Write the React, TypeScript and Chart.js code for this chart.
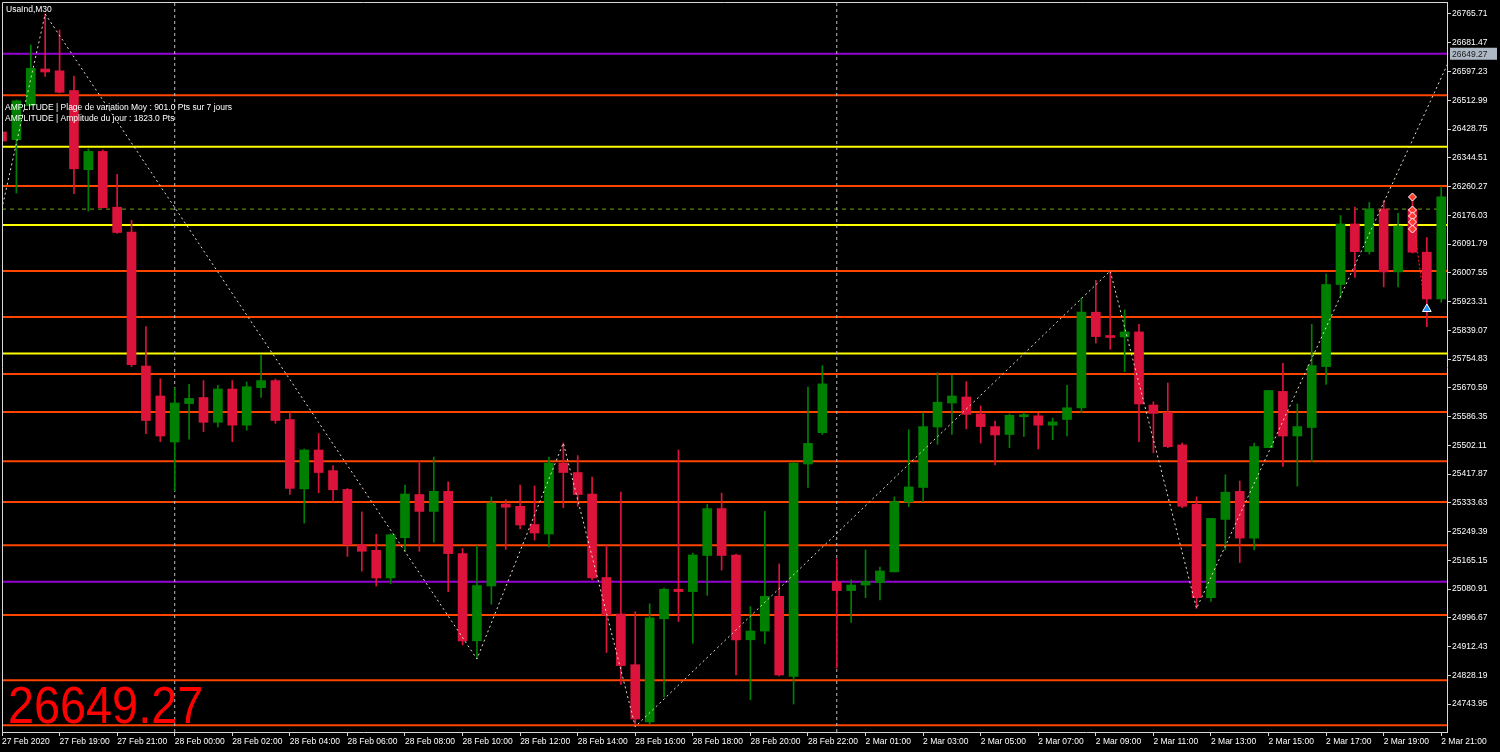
import React, { useEffect, useRef } from "react";
import { Chart, registerables } from "chart.js";

Chart.register(...registerables);

const FONT = '"Liberation Sans", Arial, sans-serif';

// ---------- DATA ----------
const chartTitle = "UsaInd,M30";
const infoLines = [
  "AMPLITUDE | Plage de variation Moy : 901.0 Pts sur 7 jours",
  "AMPLITUDE | Amplitude du jour : 1823.0 Pts",
];
const currentPrice = 26649.27;

const timeLabels = [
  "27 Feb 2020", "27 Feb 19:00", "27 Feb 21:00", "28 Feb 00:00", "28 Feb 02:00",
  "28 Feb 04:00", "28 Feb 06:00", "28 Feb 08:00", "28 Feb 10:00", "28 Feb 12:00",
  "28 Feb 14:00", "28 Feb 16:00", "28 Feb 18:00", "28 Feb 20:00", "28 Feb 22:00",
  "2 Mar 01:00", "2 Mar 03:00", "2 Mar 05:00", "2 Mar 07:00", "2 Mar 09:00",
  "2 Mar 11:00", "2 Mar 13:00", "2 Mar 15:00", "2 Mar 17:00", "2 Mar 19:00",
  "2 Mar 21:00",
];
const barsPerLabel = 4;
const daySeparators = [12, 58];

const priceTicks = [
  26765.71, 26681.47, 26597.23, 26512.99, 26428.75, 26344.51, 26260.27, 26176.03,
  26091.79, 26007.55, 25923.31, 25839.07, 25754.83, 25670.59, 25586.35, 25502.11,
  25417.87, 25333.63, 25249.39, 25165.15, 25080.91, 24996.67, 24912.43, 24828.19,
  24743.95,
];
const priceMin = 24661.97;
const priceMax = 26800.87;
const barMin = 0;
const barMax = 100.4;

const opens = [
  26419.97, 26397.41, 26497.61, 26604.56, 26599.29, 26541.56, 26309.51, 26363.13, 26199.63, 26126.97,
  25734.35, 25646.45, 25511.67, 25624.18, 25642.05, 25569.39, 25666.96, 25560.89, 25670.77, 25691.57,
  25577.59, 25374.25, 25488.23, 25427.87, 25372.79, 25210.76, 25194.35, 25113.19, 25231.27, 25357.84,
  25308.33, 25367.22, 25184.68, 24929.19, 25089.75, 25330.01, 25323.27, 25269.94, 25242.11, 25449.85,
  25422.3, 25359.31, 25114.65, 25007.71, 24859.16, 24691.56, 24993.65, 25080.37, 25073.34, 25179.11,
  25316.53, 25180.58, 24932.12, 24957.9, 25059.57, 24824.88, 25447.21, 25538.92, 25102.35, 25076.27,
  25092.68, 25099.42, 25131.06, 25335.87, 25378.35, 25555.62, 25625.94, 25643.52, 25593.71, 25556.79,
  25533.64, 25585.8, 25588.44, 25560.89, 25577.59, 25611.88, 25891.98, 25821.96, 25819.32, 25834.26,
  25620.08, 25598.1, 25503.17, 25328.84, 25055.47, 25284.89, 25367.22, 25230.1, 25494.97, 25659.93,
  25529.25, 25554.15, 25732.59, 25973.14, 26150.41, 26069.25, 26194.36, 26010.06, 26194.36, 26067.78,
  25930.66,
];
const highs = [
  26428.76, 26513.73, 26674.88, 26765.71, 26718.83, 26584.05, 26370.16, 26367.23, 26295.74, 26161.25,
  25849.5, 25696.85, 25669.89, 25680.44, 25691.57, 25677.8, 25691.57, 25687.47, 25767.17, 25696.26,
  25598.1, 25491.16, 25536.28, 25442.81, 25375.42, 25306.86, 25240.94, 25242.11, 25385.09, 25456.59,
  25467.72, 25394.76, 25199.92, 25208.12, 25350.81, 25342.61, 25385.09, 25382.75, 25467.72, 25508.74,
  25471.82, 25408.53, 25209.29, 25364.58, 25014.45, 25037.6, 25083.89, 25488.23, 25186.44, 25328.84,
  25361.95, 25183.51, 25029.39, 25308.33, 25154.21, 25453.07, 25672.23, 25735.52, 25169.45, 25107.92,
  25195.23, 25144.83, 25350.81, 25547.42, 25598.1, 25714.72, 25707.98, 25688.64, 25617.15, 25573.2,
  25593.71, 25598.1, 25595.47, 25581.7, 25677.8, 25933.59, 25985.45, 26012.7, 25899.02, 25856.24,
  25629.75, 25684.54, 25508.74, 25350.81, 25287.82, 25415.57, 25397.4, 25508.74, 25662.56, 25742.26,
  25623.01, 25856.24, 26003.32, 26175.02, 26199.63, 26213.4, 26218.97, 26181.76, 26220.73, 26110.27,
  26259.99,
];
const lows = [
  26387.74, 26241.24, 26496.15, 26582.88, 26534.24, 26239.48, 26188.5, 26197.29, 26122.87, 25732.59,
  25536.28, 25512.84, 25368.69, 25519.87, 25541.85, 25555.62, 25512.84, 25545.95, 25642.05, 25566.46,
  25357.84, 25274.05, 25363.12, 25335.87, 25176.48, 25133.7, 25089.75, 25096.78, 25191.42, 25191.42,
  25217.79, 25073.34, 24916.88, 24875.86, 25036.42, 25196.99, 25257.35, 25224.53, 25204.02, 25319.17,
  25323.27, 25107.33, 24894.9, 24801.44, 24677.79, 24684.82, 24764.52, 24985.44, 24922.45, 25062.5,
  25136.63, 24828.98, 24756.32, 24920.98, 24826.05, 24743.95, 25378.35, 25533.64, 24849.49, 24982.8,
  25055.47, 25048.73, 25130.77, 25322.1, 25337.04, 25504.64, 25533.64, 25550.05, 25508.74, 25444.28,
  25494.97, 25528.08, 25491.16, 25518.41, 25529.25, 25598.1, 25801.45, 25783.57, 25717.65, 25512.84,
  25480.03, 25494.97, 25319.17, 25024.12, 25044.63, 25195.52, 25158.6, 25195.52, 25494.97, 25440.18,
  25382.46, 25453.95, 25680.44, 25933.3, 25993.65, 26062.51, 25966.11, 25966.11, 26065.44, 25849.5,
  25920.99,
];
const closes = [
  26393.6, 26511.39, 26606.32, 26595.77, 26536.29, 26312.15, 26363.13, 26198.17, 26125.5, 25738.16,
  25574.66, 25529.25, 25625.94, 25639.42, 25569.39, 25666.96, 25560.89, 25673.7, 25691.57, 25574.66,
  25375.72, 25488.23, 25422.3, 25371.62, 25210.76, 25191.42, 25113.19, 25239.77, 25359.31, 25308.33,
  25367.22, 25184.68, 24929.19, 25091.21, 25332.94, 25320.63, 25268.48, 25245.04, 25449.85, 25422.3,
  25357.84, 25113.19, 25004.78, 24856.52, 24700.06, 24996.58, 25080.37, 25073.34, 25180.58, 25316.53,
  25179.11, 24932.12, 24957.9, 25059.57, 24828.98, 25449.85, 25507.57, 25681.9, 25076.27, 25092.68,
  25103.52, 25133.7, 25337.04, 25379.82, 25556.79, 25628.28, 25646.45, 25592.54, 25556.79, 25532.18,
  25589.9, 25591.37, 25560.89, 25570.56, 25611.88, 25891.98, 25820.49, 25817.85, 25834.26, 25623.01,
  25595.47, 25497.9, 25323.27, 25055.47, 25287.82, 25364.58, 25230.1, 25497.9, 25662.56, 25529.25,
  25556.79, 25735.52, 25973.14, 26150.41, 26069.25, 26194.36, 26010.06, 26144.55, 26067.78, 25930.66,
  26229.81,
];

const orangeLevels = [
  26527.8, 26261.4, 26012.7, 25878.2, 25710.6, 25599.6, 25455.1, 25335.9, 25209.3, 25004.8, 24813.7, 24681.9,
];
const yellowLevels = [26376.9, 26147.5, 25771.3];
const purpleLevels = [26649.27, 25102.3];
const dashedLevel = 26194.1;

const zigzagBars = [-1, 3, 33, 39, 44, 77, 83, 102];
const zigzagPrices = [26007.7, 26765.71, 24875.86, 25508.74, 24677.79, 26012.7, 25024.12, 26762.0];

const sellMarkBar = 98;
const sellMarkPrices = [26229.5, 26191.4, 26173.8, 26156.2, 26135.7];
const buyMarkBar = 99;
const buyMarkPrice = 25901.4;

// ---------- COLORS ----------
const BULL = "#008000";
const BEAR = "#dc143c";
const ORANGE = "#ff4500";
const YELLOW = "#ffff00";
const PURPLE = "#9400d3";
const AXIS = "#d8d8d8";

const overlayPlugin = {
  id: "mt4overlay",
  afterDraw(chart: any) {
    const { ctx, chartArea, scales } = chart;
    ctx.save();
    // frame top / left
    ctx.strokeStyle = AXIS;
    ctx.lineWidth = 1;
    ctx.beginPath();
    ctx.moveTo(chartArea.left + 0.5, chartArea.bottom);
    ctx.lineTo(chartArea.left + 0.5, chartArea.top + 0.5);
    ctx.lineTo(chartArea.right, chartArea.top + 0.5);
    ctx.stroke();

    ctx.fillStyle = "#ffffff";
    ctx.textBaseline = "top";
    ctx.textAlign = "left";
    ctx.font = `8.5px ${FONT}`;
    ctx.fillText(chartTitle, chartArea.left + 4, chartArea.top + 3);
    ctx.fillText(infoLines[0], chartArea.left + 3, chartArea.top + 101);
    ctx.fillText(infoLines[1], chartArea.left + 3, chartArea.top + 112);

    // current price box on axis
    const py = scales.y.getPixelForValue(currentPrice);
    ctx.fillStyle = "#aeb8c4";
    ctx.fillRect(chartArea.right + 3, py - 6, 47, 12);
    ctx.fillStyle = "#1a1a1a";
    ctx.textBaseline = "middle";
    ctx.font = `8.5px ${FONT}`;
    ctx.fillText(currentPrice.toFixed(2), chartArea.right + 5, py + 0.5);

    // big red price
    ctx.save();
    ctx.fillStyle = "#ff0000";
    ctx.textBaseline = "alphabetic";
    ctx.font = `52px ${FONT}`;
    ctx.translate(chartArea.left + 6, chartArea.bottom - 9);
    ctx.scale(0.9, 1);
    ctx.fillText(currentPrice.toFixed(2), 0, 0);
    ctx.restore();

    ctx.restore();
  },
};

export default function App() {
  const ref = useRef<HTMLCanvasElement | null>(null);

  useEffect(() => {
    if (!ref.current) return;
    const idx = opens.map((_, i) => i);
    const colors = idx.map((i) => (closes[i] >= opens[i] ? BULL : BEAR));

    const levelDataset = (p: number, color: string) => ({
      type: "line" as const,
      data: [
        { x: barMin, y: p },
        { x: barMax, y: p },
      ],
      borderColor: color,
      borderWidth: 2,
      pointRadius: 0,
      order: 10,
    });

    const datasets: any[] = [
      ...orangeLevels.map((p) => levelDataset(p, ORANGE)),
      ...yellowLevels.map((p) => levelDataset(p, YELLOW)),
      ...purpleLevels.map((p) => levelDataset(p, PURPLE)),
      {
        type: "line",
        data: [
          { x: barMin, y: dashedLevel },
          { x: barMax, y: dashedLevel },
        ],
        borderColor: "#6fa010",
        borderWidth: 1,
        borderDash: [4, 4],
        pointRadius: 0,
        order: 9,
      },
      ...daySeparators.map((b) => ({
        type: "line",
        data: [
          { x: b, y: priceMin },
          { x: b, y: priceMax },
        ],
        borderColor: "#bdbdbd",
        borderWidth: 1,
        borderDash: [3, 3],
        pointRadius: 0,
        order: 8,
      })),
      {
        type: "bar",
        data: idx.map((i) => ({ x: i, y: [lows[i], highs[i]] })),
        backgroundColor: colors,
        barThickness: 1,
        grouped: false,
        borderWidth: 0,
        order: 3,
      },
      {
        type: "bar",
        data: idx.map((i) => ({ x: i, y: [opens[i], closes[i]] })),
        backgroundColor: colors,
        barThickness: 9,
        minBarLength: 2,
        grouped: false,
        borderWidth: 0,
        order: 2,
      },
      {
        type: "line",
        data: zigzagBars.map((b, i) => ({ x: b, y: zigzagPrices[i] })),
        borderColor: "#e6dcc8",
        borderWidth: 1,
        borderDash: [2, 3],
        pointRadius: 0,
        order: 1,
      },
      {
        type: "line",
        data: [
          { x: sellMarkBar + 0.2, y: sellMarkPrices[sellMarkPrices.length - 1] - 20 },
          { x: buyMarkBar - 0.2, y: closes[buyMarkBar] },
        ],
        borderColor: "#ff2020",
        borderWidth: 1,
        borderDash: [2, 2],
        pointRadius: 0,
        order: 0,
      },
      {
        type: "line",
        showLine: false,
        data: sellMarkPrices.map((p) => ({ x: sellMarkBar, y: p })),
        pointStyle: "rectRot",
        pointRadius: 4,
        backgroundColor: "#ff3b30",
        borderColor: "#ffffff",
        borderWidth: 1,
        order: 0,
      },
      {
        type: "line",
        showLine: false,
        data: [{ x: buyMarkBar, y: buyMarkPrice }],
        pointStyle: "triangle",
        pointRadius: 5,
        backgroundColor: "#1e90ff",
        borderColor: "#ffffff",
        borderWidth: 1,
        order: 0,
      },
    ];

    const tickFont = { family: FONT, size: 8.5 };

    const chart = new Chart(ref.current, {
      type: "bar",
      data: { datasets },
      plugins: [overlayPlugin],
      options: {
        animation: false,
        responsive: false,
        events: [],
        layout: { autoPadding: false, padding: { left: 2, top: 2, right: 0, bottom: 0 } },
        plugins: { legend: { display: false }, tooltip: { enabled: false } },
        scales: {
          x: {
            type: "linear",
            min: barMin,
            max: barMax,
            offset: false,
            afterBuildTicks: (scale: any) => {
              scale.ticks = timeLabels.map((_, k) => ({ value: k * barsPerLabel }));
            },
            afterFit: (scale: any) => {
              scale.height = 20;
              scale.paddingLeft = 0;
              scale.paddingRight = 0;
            },
            ticks: {
              color: "#ffffff",
              font: tickFont,
              align: "start",
              maxRotation: 0,
              minRotation: 0,
              autoSkip: false,
              padding: 1,
              callback: (_v: any, i: number) => timeLabels[i],
            },
            grid: { drawOnChartArea: false, offset: false, tickLength: 4, color: AXIS },
            border: { color: AXIS, width: 1 },
          },
          y: {
            type: "linear",
            position: "right",
            min: priceMin,
            max: priceMax,
            afterBuildTicks: (scale: any) => {
              scale.ticks = priceTicks.map((v) => ({ value: v }));
            },
            afterFit: (scale: any) => {
              scale.width = 53;
              scale.paddingTop = 0;
              scale.paddingBottom = 0;
            },
            ticks: {
              color: "#ffffff",
              font: tickFont,
              padding: 1,
              autoSkip: false,
              callback: (v: any) => Number(v).toFixed(2),
            },
            grid: { drawOnChartArea: false, tickLength: 4, color: AXIS },
            border: { color: AXIS, width: 1 },
          },
        },
      } as any,
    });
    return () => chart.destroy();
  }, []);

  return (
    <div
      style={{
        position: "fixed",
        left: 0,
        top: 0,
        width: 1500,
        height: 752,
        background: "#000000",
      }}
    >
      <canvas ref={ref} width={1500} height={752} style={{ display: "block" }} />
    </div>
  );
}
